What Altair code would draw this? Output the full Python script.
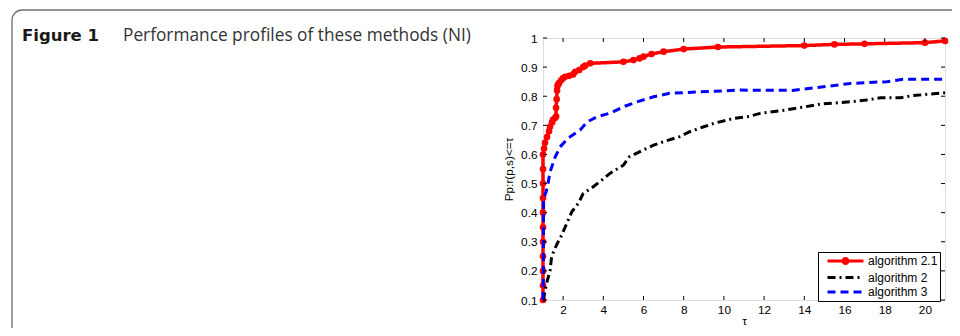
import altair as alt
import pandas as pd

# ---- data ----
series_names = ["algorithm 2.1", "algorithm 2", "algorithm 3"]

red_x = [1, 1, 1, 1, 1, 1, 1, 1, 1, 1, 1,
         1.05, 1.1, 1.2, 1.3, 1.35, 1.45, 1.5, 1.6, 1.65, 1.65, 1.68, 1.7, 1.72, 1.75,
         1.8, 1.9, 2.0, 2.1, 2.3, 2.5, 2.6, 2.8, 3.0, 3.1, 3.35,
         5.0, 5.5, 5.8, 6.0, 6.4, 7.0, 8.0, 9.7, 14.0, 15.5, 17.0, 20.0, 21.0]
red_y = [0.1, 0.15, 0.2, 0.25, 0.3, 0.35, 0.4, 0.45, 0.5, 0.55, 0.6,
         0.62, 0.64, 0.66, 0.68, 0.695, 0.71, 0.72, 0.725, 0.73, 0.76, 0.79, 0.82, 0.835, 0.84,
         0.845, 0.855, 0.862, 0.867, 0.87, 0.875, 0.884, 0.89, 0.9, 0.905, 0.913,
         0.918, 0.924, 0.93, 0.936, 0.945, 0.953, 0.962, 0.969, 0.974, 0.978, 0.98, 0.984, 0.99]

black_x = [1.0, 1.02, 1.1, 1.18, 1.35, 1.43, 1.68, 1.93, 2.18, 2.43, 2.76, 3.0, 3.5, 3.92,
           4.33, 5.0, 5.3, 5.8, 6.5, 7.0, 7.8, 8.3, 9.0, 9.5, 10.5, 11.2, 11.8, 13.1, 13.9,
           14.8, 16.3, 17.1, 17.8, 18.8, 19.4, 21.0]
black_y = [0.1, 0.1, 0.13, 0.158, 0.2, 0.25, 0.29, 0.323, 0.363, 0.403, 0.432, 0.466, 0.489, 0.512,
           0.535, 0.563, 0.592, 0.609, 0.632, 0.644, 0.661, 0.678, 0.695, 0.707, 0.724, 0.73, 0.741,
           0.753, 0.762, 0.773, 0.781, 0.787, 0.795, 0.795, 0.802, 0.812]

blue_x = [1.0, 1.02, 1.03, 1.15, 1.25, 1.35, 1.5, 1.6, 1.85, 2.25, 2.85, 3.2, 3.7, 4.35, 5.0,
          5.65, 6.5, 7.3, 8.8, 10.8, 13.4, 14.3, 15.6, 16.3, 18.1, 18.9, 21.0]
blue_y = [0.1, 0.2, 0.45, 0.47, 0.5, 0.54, 0.57, 0.59, 0.626, 0.656, 0.684, 0.712, 0.73, 0.742,
          0.764, 0.78, 0.798, 0.81, 0.815, 0.821, 0.82, 0.827, 0.838, 0.844, 0.85, 0.858, 0.858]

x_ticks = [2, 4, 6, 8, 10, 12, 14, 16, 18, 20]
y_ticks = [0.1, 0.2, 0.3, 0.4, 0.5, 0.6, 0.7, 0.8, 0.9, 1.0]

caption_bold = ["Figure 1"]
caption_text = ["Performance profiles of these methods (NI)"]

# ---- frames ----
red_df = pd.DataFrame({"tau": red_x, "p": red_y, "series": series_names[0]})
black_df = pd.DataFrame({"tau": black_x, "p": black_y, "series": series_names[1]})
blue_df = pd.DataFrame({"tau": blue_x, "p": blue_y, "series": series_names[2]})
xt_df = pd.DataFrame({"tau": x_ticks})
yt_df = pd.DataFrame({"p": y_ticks})

W, H = 402, 262
FONT = "Liberation Sans"
FS = 11.8

xscale = alt.Scale(domain=[1, 21], nice=False, zero=False)
yscale = alt.Scale(domain=[0.1, 1], nice=False, zero=False)
color_scale = alt.Scale(domain=series_names, range=["#ff0000", "#000000", "#0000ff"])
dash_scale = alt.Scale(domain=series_names, range=[[1, 0], [8, 4, 2, 4], [8, 5]])

xaxis = alt.Axis(values=x_ticks, format="d", domain=False, ticks=False, grid=False,
                 labelPadding=4, labelFontSize=FS, labelFont=FONT, labelColor="black",
                 labelOverlap=False,
                 title="τ", titleFont=FONT, titleFontSize=FS, titleFontWeight="normal",
                 titleColor="black", titlePadding=0)
yaxis = alt.Axis(values=y_ticks, format=".1~f", domain=False, ticks=False, grid=False,
                 labelPadding=6, labelFontSize=FS, labelFont=FONT, labelColor="black",
                 labelOverlap=False,
                 title="Pp:r(p,s)<=τ", titleFont=FONT, titleFontSize=FS,
                 titleFontWeight="normal", titleColor="black", titlePadding=6)

X = alt.X("tau:Q", scale=xscale, axis=xaxis)
Y = alt.Y("p:Q", scale=yscale, axis=yaxis)

LINE_PATH = "M-3.6,0H3.6"
DOT_PATH = "M-3.6,0H3.6M0.5,0A0.5,0.5 0 1,1 -0.5,0A0.5,0.5 0 1,1 0.5,0Z"

legend = alt.Legend(
    title=None, orient="none", legendX=275, legendY=214,
    fillColor="white", strokeColor="black", padding=2.5,
    labelFont=FONT, labelFontSize=12, labelColor="black",
    symbolType=alt.ExprRef(
        f"datum.label === 'algorithm 2.1' ? '{DOT_PATH}' : '{LINE_PATH}'"),
    symbolFillColor=alt.ExprRef(
        "datum.label === 'algorithm 2.1' ? '#ff0000' : 'transparent'"),
    symbolStrokeWidth=3, symbolSize=100,
    symbolOffset=18.5, labelOffset=16, rowPadding=1.5,
)


def line_layer(df, width):
    return alt.Chart(df).mark_line(strokeWidth=width).encode(
        x=X, y=Y,
        color=alt.Color("series:N", scale=color_scale, legend=legend),
        strokeDash=alt.StrokeDash("series:N", scale=dash_scale, legend=legend),
        order="tau:Q",
    )


red_line = line_layer(red_df, 3.5)
red_pts = alt.Chart(red_df).mark_circle(size=44, opacity=1, color="#ff0000").encode(x=X, y=Y)
black_line = line_layer(black_df, 3)
blue_line = line_layer(blue_df, 3)

tick_bottom = alt.Chart(xt_df).mark_rule(color="black", strokeWidth=1).encode(
    x=X, y=alt.value(H), y2=alt.value(H - 4))
tick_top = alt.Chart(xt_df).mark_rule(color="black", strokeWidth=1).encode(
    x=X, y=alt.value(0), y2=alt.value(4))
tick_left = alt.Chart(yt_df).mark_rule(color="black", strokeWidth=1).encode(
    y=Y, x=alt.value(0), x2=alt.value(4))
tick_right = alt.Chart(yt_df).mark_rule(color="black", strokeWidth=1).encode(
    y=Y, x=alt.value(W - 4), x2=alt.value(W))

# caption box and text (positions relative to plot origin at page 543,38)
box = alt.Chart(pd.DataFrame({"k": [0]})).mark_rect(
    fill="transparent", stroke="#6f6f6f", strokeWidth=1.3, cornerRadius=10
).encode(x=alt.value(-531), x2=alt.value(440), y=alt.value(-28), y2=alt.value(330))

cap1 = alt.Chart(pd.DataFrame({"s": caption_bold})).mark_text(
    font="DejaVu Sans", fontSize=16.5, fontWeight="bold", align="left", baseline="alphabetic",
    color="#1a1a1a"
).encode(x=alt.value(-521), y=alt.value(3), text="s:N")
cap2 = alt.Chart(pd.DataFrame({"s": caption_text})).mark_text(
    font="Open Sans", fontSize=17.3, align="left", baseline="alphabetic", color="#333333"
).encode(x=alt.value(-420), y=alt.value(3), text="s:N")

chart = alt.layer(
    box, cap1, cap2,
    red_line, red_pts, black_line, blue_line,
    tick_bottom, tick_top, tick_left, tick_right,
).resolve_scale(color="shared", strokeDash="shared").properties(
    width=W, height=H,
    autosize=alt.AutoSizeParams(type="none"),
    padding={"left": 535, "top": 30, "right": 7, "bottom": 28},
).configure_view(stroke="black", strokeWidth=1).configure_axis(
    labelOverlap=False
).configure(background="white")

chart.save("out.html", embed_options={"renderer": "svg", "actions": False})
